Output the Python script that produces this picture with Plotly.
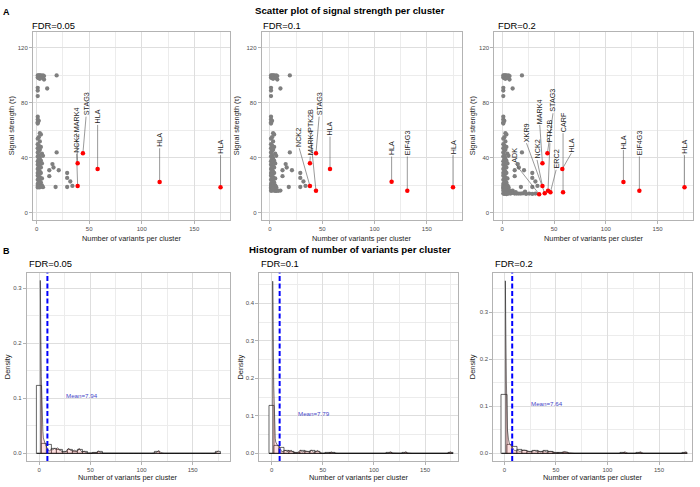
import plotly.graph_objects as go

FONT = "Liberation Sans, Arial, Helvetica, sans-serif"

# ---------------- data ----------------
fdr_titles = ["FDR=0.05", "FDR=0.1", "FDR=0.2"]
main_title_a = "Scatter plot of signal strength per cluster"
main_title_b = "Histogram of number of variants per cluster"
x_title = "Number of variants per cluster"
y_title_a = "Signal strength (τ)"
y_title_b = "Density"

# gray (non-significant) clusters, common to all FDR levels
gray_base_x = [1, 2, 3, 4, 5, 6, 7, 1, 2, 3, 6, 7, 19,
               1, 1, 10, 1,
               1, 1, 2, 1, 1,
               3, 4, 2, 1, 3, 1, 2, 4, 1, 3, 2, 1, 5, 2, 6, 1, 3, 2, 4, 1, 3, 2, 5,
               1, 3, 2, 4, 1, 2, 3, 1, 4, 2, 1, 3, 5, 2, 1, 3, 2, 4, 1, 3, 2, 5, 1,
               4, 2, 3, 1, 6,
               19, 15, 16, 12, 21, 12, 29, 29, 32, 34, 29, 18]
gray_base_y = [100, 100, 100, 100, 99.5, 100, 99.5, 98.5, 98, 97.5, 98, 97, 100,
               91, 89, 90.5, 85,
               70, 68, 67, 66, 65,
               58, 57, 55, 54, 52, 50, 49, 48, 47, 46, 45, 44, 43, 42, 41.5, 41, 40, 39, 38, 37.5, 37, 36, 36,
               35, 34, 33, 33, 32, 31, 30, 29, 29, 28, 27, 26, 25, 25, 24, 23, 22, 22, 21, 20.5, 20, 20, 19.5,
               19, 18.8, 18.6, 18.5, 18.7,
               44, 35.5, 33, 31, 31, 26.7, 29, 25.4, 22.8, 19.6, 18.8, 18.8]
# extra gray clusters appearing at FDR=0.1
gray_extra1_x = [1, 2, 3, 4, 5, 6, 7, 8, 10, 1, 2, 5, 3]
gray_extra1_y = [17.5, 17, 16.5, 16.2, 16, 16, 16.3, 16, 16.2, 16, 16.2, 17.5, 17.8]
# extra gray clusters appearing at FDR=0.2
gray_extra2_x = [1, 2, 3, 4, 6, 8, 10, 12, 14, 16, 18, 20, 23, 26, 29, 32, 13, 22, 9, 7]
gray_extra2_y = [14, 13.8, 14.2, 13.6, 14, 14, 14.5, 14, 14, 14, 14, 14.2, 13.8, 14, 13.8, 14, 15, 15.5, 15, 14.6]

# significant clusters (red) and their labels, per FDR level
sig1_name = ["NCK2", "MARK4", "STAG3", "HLA", "HLA", "HLA"]
sig1_x = [39, 39, 44, 58, 117, 175]
sig1_y = [19.6, 36.1, 43.4, 32, 22.5, 18.7]
lab1_x = [38, 38, 47, 58, 117, 175]
lab1_y = [43, 58, 70, 64, 47, 42]

sig2_name = ["NCK2", "MARK4", "PTK2B", "STAG3", "HLA", "HLA", "EIF4G3", "HLA"]
sig2_x = [38.2, 38.2, 44, 44, 57.4, 116.3, 131.3, 175]
sig2_y = [19.6, 36.1, 16, 43.4, 32, 22.7, 16, 18.7]
lab2_x = [28, 38.5, 38.5, 47, 57.4, 116.3, 131.3, 175]
lab2_y = [47, 41, 58, 70, 55.5, 41, 41, 42]

sig3_name = ["ADK", "XKR9", "NCK2", "MARK4", "PTK2B", "STAG3", "ERC2", "CARF", "HLA", "HLA", "EIF4G3", "HLA"]
sig3_x = [35.6, 41, 38.8, 38.8, 44.2, 43.6, 46.5, 58.7, 58, 117, 132.4, 176]
sig3_y = [13.6, 14.3, 19.6, 36.1, 16, 43.4, 15, 15, 32, 22.5, 16, 18.7]
lab3_x = [12.2, 23.4, 33.6, 36.2, 46, 49, 52, 58.7, 66.7, 117, 132.4, 176]
lab3_y = [36, 50.7, 38.5, 64, 50.7, 72.5, 31.3, 58, 43.4, 45.8, 41, 42]

# histogram (binwidth 5)
bin_centers = [0, 5, 10, 15, 20, 25, 30, 35, 40, 45, 50, 55, 60, 65, 70, 75, 80, 85,
               90, 95, 100, 105, 110, 115, 120, 125, 130, 135, 140, 145, 150, 155, 160, 165, 170, 175]
hist1 = [0.123, 0.018, 0.016, 0.008, 0.006, 0.002, 0.007, 0.003, 0.006, 0.002, 0, 0.001, 0.002, 0, 0, 0, 0, 0,
         0, 0, 0, 0, 0, 0.002, 0, 0, 0, 0, 0, 0, 0, 0, 0, 0, 0, 0.002]
hist2 = [0.126, 0.020, 0.014, 0.007, 0.005, 0.002, 0.006, 0.004, 0.006, 0.003, 0, 0.001, 0.002, 0, 0, 0, 0, 0,
         0, 0, 0, 0, 0, 0.001, 0, 0, 0.001, 0, 0, 0, 0, 0, 0, 0, 0, 0.001]
hist3 = [0.124, 0.0177, 0.014, 0.008, 0.006, 0.003, 0.006, 0.004, 0.005, 0.004, 0.001, 0.001, 0.002, 0, 0, 0, 0, 0,
         0, 0, 0, 0, 0, 0.001, 0, 0, 0.001, 0, 0, 0, 0, 0, 0, 0, 0, 0.001]

# density curves
dens1_x = [1, 1, 1.5, 2, 2.5, 3, 3.5, 4, 5, 6, 7, 8, 9, 10, 11, 12, 13, 14, 15, 16, 17, 18, 19, 20, 21, 22, 24,
           26, 28, 29, 30, 31, 33, 34, 36, 38, 39, 40, 42, 44, 45, 47, 52, 56, 58, 60, 63, 70, 110, 114, 116,
           117, 119, 122, 170, 173, 175]
dens1_y = [0, 0.314, 0.22, 0.14, 0.09, 0.06, 0.04, 0.028, 0.02, 0.016, 0.012, 0.008, 0.005, 0.004, 0.006, 0.008,
           0.006, 0.008, 0.009, 0.007, 0.008, 0.010, 0.008, 0.005, 0.006, 0.003, 0.002, 0.003, 0.008, 0.009,
           0.006, 0.005, 0.004, 0.006, 0.004, 0.005, 0.009, 0.006, 0.002, 0.004, 0.002, 0.0005, 0.0002, 0.001,
           0.004, 0.001, 0.0002, 0, 0, 0.001, 0.004, 0.005, 0.001, 0, 0, 0.001, 0.005]
dens2_x = [1, 1, 1.5, 2, 2.5, 3, 3.5, 4, 5, 6, 7, 8, 9, 10, 12, 14, 15, 17, 18, 19, 20, 22, 25, 28, 30, 33, 35,
           37, 39, 41, 43, 45, 47, 50, 57, 58, 60, 65, 114, 116, 118, 122, 129, 131, 133, 137, 172, 175, 176]
dens2_y = [0, 0.459, 0.31, 0.18, 0.10, 0.06, 0.04, 0.03, 0.022, 0.02, 0.02, 0.015, 0.008, 0.004, 0.006, 0.008,
           0.004, 0.008, 0.006, 0.009, 0.005, 0.002, 0.001, 0.008, 0.004, 0.006, 0.005, 0.003, 0.008, 0.003,
           0.004, 0.008, 0.002, 0, 0.001, 0.004, 0.001, 0, 0, 0.004, 0.001, 0, 0, 0.004, 0.001, 0, 0, 0.004, 0.002]
dens3_x = [1, 1, 1.5, 2, 2.5, 3, 4, 5, 6, 7, 8, 9, 10, 12, 13, 15, 17, 19, 21, 23, 25, 27, 29, 31, 33, 35, 37,
           39, 41, 43, 45, 47, 50, 55, 58, 60, 63, 68, 114, 117, 120, 129, 132, 135, 173, 176, 177]
dens3_y = [0, 0.367, 0.25, 0.15, 0.09, 0.05, 0.03, 0.02, 0.018, 0.016, 0.012, 0.008, 0.006, 0.005, 0.006,
           0.004, 0.006, 0.007, 0.006, 0.005, 0.003, 0.004, 0.006, 0.004, 0.005, 0.003, 0.004, 0.005, 0.003,
           0.004, 0.004, 0.003, 0.001, 0.001, 0.004, 0.003, 0.001, 0, 0, 0.003, 0, 0, 0.003, 0, 0, 0.003, 0.002]

mean_values = [7.94, 7.79, 7.64]

# ---------------- layout geometry (pixels) ----------------
W, H = 700, 487


def dx(a, b):
    return [a / W, b / W]


def dy(top, bottom):
    return [1 - bottom / H, 1 - top / H]


top_x_dom = [dx(33, 230), dx(261.7, 462), dx(494.3, 693)]
top_y_dom = dy(32, 220)
bot_x_dom = [dx(26.7, 230), dx(259.3, 458.3), dx(493.3, 691.7)]
bot_y_dom = dy(272.7, 461)

top_x_rng = [[-3.5, 184], [-7.9, 183.6], [-7.7, 184.2]]
top_y_rng = [-5.2, 131.6]
bot_x_rng = [[-12.3, 186.5], [-12.1, 182.5], [-10.7, 181.7]]
bot_y_rng = [[-0.014, 0.328], [-0.0205, 0.4816], [-0.0164, 0.3843]]

# pixel shift of panel titles relative to the panel left edge, and y-axis title positions
top_title_shift = [-3, -1, 1.4]
top_ytitle_x = [12.3, 237.3, 473.3]
bot_ytitle_x = [8.3, 240.7, 473.3]

GRID = "#dedede"
MINOR = "#ececec"
BORDER = "#b3b3b3"
TICKC = "#4d4d4d"


def axis(domain, rng, dtick, anchor, fmt=None):
    d = dict(domain=domain, range=rng, anchor=anchor, showline=True, mirror=True,
             linecolor=BORDER, linewidth=1, showgrid=True, gridcolor=GRID, gridwidth=0.6,
             zeroline=False, ticks="outside", ticklen=3, tickwidth=0.6, tickcolor=BORDER,
             tickfont=dict(size=6, color=TICKC, family=FONT), tick0=0, dtick=dtick,
             minor=dict(showgrid=True, gridcolor=MINOR, gridwidth=0.4, dtick=dtick / 2, tick0=0),
             fixedrange=True)
    if fmt:
        d["tickformat"] = fmt
    return d


def paper_text(xpx, ypx, text, size, color="black", anchor="left", angle=0):
    return dict(x=xpx / W, y=1 - ypx / H, xref="paper", yref="paper", text=text, showarrow=False,
                xanchor=anchor, yanchor="middle", align="left", textangle=angle,
                font=dict(size=size, color=color, family=FONT))


def panel_title(xa, ypx, text, shift):
    return dict(x=0, y=1 - ypx / H, xref=f"{xa} domain", yref="paper", text=text, showarrow=False,
                xanchor="left", yanchor="middle", xshift=shift,
                font=dict(size=9.4, color="black", family=FONT))


fig = go.Figure()
layout = {}
annotations = []
shapes = []

gray_sets_x = [gray_base_x, gray_base_x + gray_extra1_x, gray_base_x + gray_extra1_x + gray_extra2_x]
gray_sets_y = [gray_base_y, gray_base_y + gray_extra1_y, gray_base_y + gray_extra1_y + gray_extra2_y]
sig_sets = [(sig1_name, sig1_x, sig1_y, lab1_x, lab1_y),
            (sig2_name, sig2_x, sig2_y, lab2_x, lab2_y),
            (sig3_name, sig3_x, sig3_y, lab3_x, lab3_y)]
hists = [hist1, hist2, hist3]
dens = [(dens1_x, dens1_y), (dens2_x, dens2_y), (dens3_x, dens3_y)]

# ---------- top row: scatter ----------
for i in range(3):
    n = i + 1
    xa, ya = (f"x{n}", f"y{n}") if n > 1 else ("x", "y")
    sfx = str(n) if n > 1 else ""
    layout[f"xaxis{sfx}"] = axis(top_x_dom[i], top_x_rng[i], 50, ya)
    layout[f"yaxis{sfx}"] = axis(top_y_dom, top_y_rng, 40, xa)
    fig.add_trace(go.Scatter(x=gray_sets_x[i], y=gray_sets_y[i], mode="markers", xaxis=xa, yaxis=ya,
                             marker=dict(color="#7f7f7f", size=4.3, line=dict(width=0)),
                             showlegend=False, hoverinfo="skip"))
    names, sx, sy, lx, ly = sig_sets[i]
    segx, segy = [], []
    for a, b, c, d in zip(sx, sy, lx, ly):
        segx += [a, c, None]
        segy += [b, d, None]
    fig.add_trace(go.Scatter(x=segx, y=segy, mode="lines", xaxis=xa, yaxis=ya,
                             line=dict(color="#555555", width=0.6), showlegend=False, hoverinfo="skip"))
    fig.add_trace(go.Scatter(x=sx, y=sy, mode="markers", xaxis=xa, yaxis=ya,
                             marker=dict(color="#ff0000", size=4.5, line=dict(width=0)),
                             showlegend=False, hoverinfo="skip"))
    for nm, c, d in zip(names, lx, ly):
        annotations.append(dict(x=c, y=d, xref=xa, yref=ya, text=nm, textangle=-90, showarrow=False,
                                xanchor="center", yanchor="bottom", borderpad=0,
                                font=dict(size=7.2, color="#222222", family=FONT)))
    annotations.append(panel_title(xa, 25, fdr_titles[i], top_title_shift[i]))
    annotations.append(paper_text((top_x_dom[i][0] + top_x_dom[i][1]) / 2 * W, 238.5, x_title, 7.4,
                                  "#222222", "center"))
    annotations.append(paper_text(top_ytitle_x[i], (32 + 220) / 2, y_title_a, 7.4, "#222222", "center", -90))

# ---------- bottom row: histograms ----------
for i in range(3):
    n = i + 4
    xa, ya = f"x{n}", f"y{n}"
    layout[f"xaxis{n}"] = axis(bot_x_dom[i], bot_x_rng[i], 50, ya)
    layout[f"yaxis{n}"] = axis(bot_y_dom, bot_y_rng[i], 0.1, xa, ".1f")
    fig.add_trace(go.Bar(x=bin_centers, y=hists[i], width=5, xaxis=xa, yaxis=ya,
                         marker=dict(color="white", line=dict(color="black", width=0.6)),
                         showlegend=False, hoverinfo="skip"))
    fig.add_trace(go.Scatter(x=[bin_centers[0] - 2.5, bin_centers[-1] + 2.5], y=[0, 0], mode="lines",
                             xaxis=xa, yaxis=ya, line=dict(color="black", width=0.8),
                             showlegend=False, hoverinfo="skip"))
    fig.add_trace(go.Scatter(x=dens[i][0], y=dens[i][1], mode="lines", xaxis=xa, yaxis=ya,
                             line=dict(color="#222222", width=0.6), fill="tozeroy",
                             fillcolor="rgba(255,102,102,0.2)", showlegend=False, hoverinfo="skip"))
    shapes.append(dict(type="line", xref=xa, yref=f"{ya} domain", x0=mean_values[i], x1=mean_values[i],
                       y0=0, y1=1, line=dict(color="#0000ff", width=2, dash="5px,2.5px")))
    annotations.append(dict(x=24, y=0.105, xref=xa, yref=ya, text=f"Mean={mean_values[i]:.2f}",
                            showarrow=False, xanchor="left", yanchor="middle",
                            font=dict(size=6.2, color="#4545c8", family=FONT)))
    annotations.append(panel_title(xa, 263, fdr_titles[i], 0))
    annotations.append(paper_text((bot_x_dom[i][0] + bot_x_dom[i][1]) / 2 * W, 477, x_title, 7.4,
                                  "#222222", "center"))
    annotations.append(paper_text(bot_ytitle_x[i], (272.7 + 461) / 2, y_title_b, 7.4, "#222222", "center", -90))

# main titles and panel letters
annotations += [
    paper_text(350, 10.7, f"<b>{main_title_a}</b>", 9.7, anchor="center"),
    paper_text(350, 250, f"<b>{main_title_b}</b>", 9.7, anchor="center"),
    paper_text(6, 12, "<b>A</b>", 9, anchor="center"),
    paper_text(6, 251, "<b>B</b>", 9, anchor="center"),
]

fig.update_layout(
    width=W, height=H, margin=dict(l=0, r=0, t=0, b=0),
    paper_bgcolor="white", plot_bgcolor="white",
    font=dict(family=FONT), showlegend=False, bargap=0,
    annotations=annotations, shapes=shapes, **layout,
)

fig.write_html("out.html", config={"displayModeBar": False})
